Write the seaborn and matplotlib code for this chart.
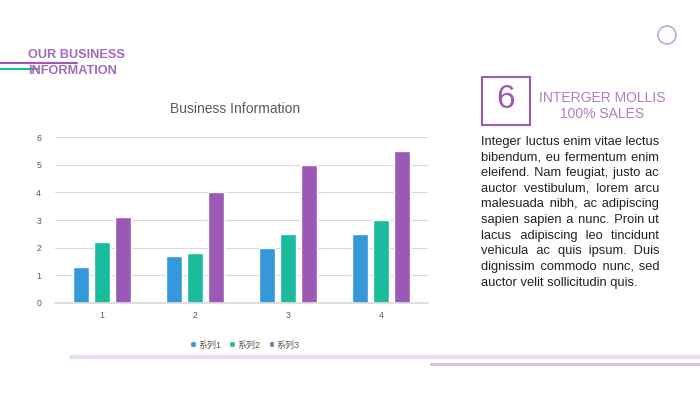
import matplotlib
matplotlib.use("Agg")
from matplotlib import pyplot as plt
from matplotlib.patches import Rectangle, Ellipse
import pandas as pd
import seaborn as sns

# chart data
categories = ["1", "2", "3", "4"]
series_names = ["系列1", "系列2", "系列3"]
series1 = [1.3, 1.7, 2.0, 2.5]
series2 = [2.2, 1.8, 2.5, 3.0]
series3 = [3.1, 4.0, 5.0, 5.5]
y_ticks = [0, 1, 2, 3, 4, 5, 6]

colors = ["#3498db", "#1abc9c", "#9b59b6"]

paragraph_lines = [
    "Integer luctus enim vitae lectus",
    "bibendum, eu fermentum enim",
    "eleifend. Nam feugiat, justo ac",
    "auctor vestibulum, lorem arcu",
    "malesuada nibh, ac adipiscing",
    "sapien sapien a nunc. Proin ut",
    "lacus adipiscing leo tincidunt",
    "vehicula ac quis ipsum. Duis",
    "dignissim commodo nunc, sed",
    "auctor velit sollicitudin quis.",
]

W, H = 700, 394


def px(x, y):
    """pixel (from top left) -> figure fraction"""
    return x / W, 1 - y / H


df = pd.DataFrame({
    "cat": categories * 3,
    "value": series1 + series2 + series3,
    "series": [s for s in series_names for _ in categories],
})

sns.set_theme(style="white")
plt.rcParams["font.family"] = ["Liberation Sans", "Noto Sans CJK SC", "DejaVu Sans"]

fig = plt.figure(figsize=(W / 100, H / 100), dpi=100)
fig.patch.set_facecolor("white")

# chart area
left, bottom = px(55, 302.7)
ax = fig.add_axes([left, bottom, 373 / W, (302.7 - 137.3) / H])
sns.barplot(data=df, x="cat", y="value", hue="series", palette=colors,
            width=0.675, gap=0.24, saturation=1, ax=ax, legend=True)
ax.set_ylim(0, 6)
ax.set_xlim(-0.5, 3.5)
ax.set_yticks(y_ticks)
ax.yaxis.grid(True, color="#d9d9d9", linewidth=0.8)
ax.set_axisbelow(True)
for s in ["top", "right", "left"]:
    ax.spines[s].set_visible(False)
ax.spines["bottom"].set_color("#d9d9d9")
ax.set_xlabel("")
ax.set_ylabel("")
ax.tick_params(axis="both", labelsize=6.3, colors="#595959", length=0)
ax.tick_params(axis="x", pad=6)
ax.tick_params(axis="y", pad=10)

handles, labels = ax.get_legend_handles_labels()
ax.get_legend().remove()
fig.legend(handles, labels, loc="center", bbox_to_anchor=px(245, 345), ncol=3,
           frameon=False, fontsize=6.5, handlelength=0.6, handleheight=0.6,
           handletextpad=0.3, columnspacing=0.9, labelcolor="#595959")

fig.text(*px(235, 109), "Business Information", fontsize=10, color="#595959",
         ha="center", va="center")

# header
fig.text(*px(28, 55), "OUR BUSINESS", fontsize=9.2, fontweight="bold",
         color="#a469bd", ha="left", va="center")
fig.text(*px(28, 71), "INFORMATION", fontsize=9.2, fontweight="bold",
         color="#a469bd", ha="left", va="center")
fig.add_artist(plt.Line2D([0, 77 / W], [1 - 63 / H] * 2, color="#9b59b6", lw=1.5))
fig.add_artist(plt.Line2D([0, 38 / W], [1 - 69 / H] * 2, color="#1abc9c", lw=1.5))

# circle top right
fig.add_artist(Ellipse(px(667, 35), 18 / W, 18 / H, transform=fig.transFigure,
                       fill=False, edgecolor="#c4a6d6", lw=1.2))

# number box
bx, by = px(482, 125)
fig.add_artist(Rectangle((bx, by), 48 / W, 48 / H, transform=fig.transFigure,
                         fill=False, edgecolor="#9b59b6", lw=1.5))
fig.text(*px(506, 100), "6", fontsize=24, color="#9b59b6", ha="center", va="center")
fig.text(*px(602, 98), "INTERGER MOLLIS", fontsize=10, color="#b07cc6",
         ha="center", va="center")
fig.text(*px(602, 114), "100% SALES", fontsize=10, color="#b07cc6",
         ha="center", va="center")

# justified paragraph: pad the spaces with hair spaces to fill the column
renderer = fig.canvas.get_renderer()
x0, x1 = 481, 659
fs = 9.3
HAIR = "\u200a"


def text_width(s):
    t = fig.text(0, 0, s, fontsize=fs)
    w = t.get_window_extent(renderer).width
    t.remove()
    return w


hair_w = text_width("a" + HAIR * 10 + "a") - text_width("aa")
hair_w /= 10
for i, line in enumerate(paragraph_lines):
    y = 141.5 + i * 15.7
    words = line.split()
    if i < len(paragraph_lines) - 1 and hair_w > 0:
        extra = (x1 - x0) - text_width(line)
        n = max(0, int(round(extra / hair_w)))
        gaps = len(words) - 1
        pieces = [words[0]]
        for g in range(gaps):
            k = n // gaps + (1 if g < n % gaps else 0)
            pieces.append(" " + HAIR * k + words[g + 1])
        line = "".join(pieces)
    fig.text(*px(x0, y), line, fontsize=fs, color="#222222", ha="left", va="center")

# bottom decoration lines
fig.add_artist(plt.Line2D([71 / W, 1], [1 - 357 / H] * 2, color="#ead9f0", lw=3))
fig.add_artist(plt.Line2D([431 / W, 1], [1 - 364 / H] * 2, color="#d5bde3", lw=2.2))

fig.savefig("out.png", dpi=100)
